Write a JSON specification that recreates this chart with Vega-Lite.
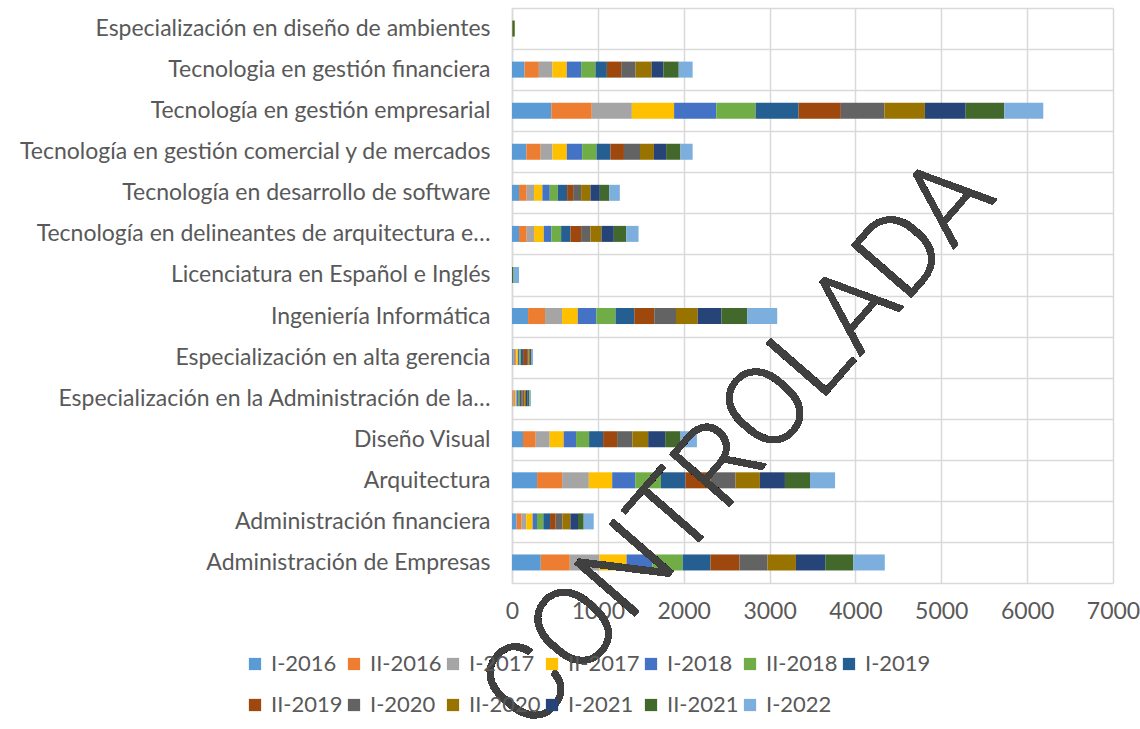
{
  "$schema": "https://vega.github.io/schema/vega-lite/v6.json",
  "width": 601,
  "height": 575,
  "autosize": {"type": "none"},
  "padding": {"left": 512, "top": 8, "right": 27, "bottom": 146},
  "background": "white",
  "config": {"view": {"stroke": null}, "font": "Lato"},
  "datasets": {
    "d": [
      {"c": "Especialización en diseño de ambientes", "s": "I-2016", "v": 0},
      {"c": "Especialización en diseño de ambientes", "s": "II-2016", "v": 0},
      {"c": "Especialización en diseño de ambientes", "s": "I-2017", "v": 0},
      {"c": "Especialización en diseño de ambientes", "s": "II-2017", "v": 0},
      {"c": "Especialización en diseño de ambientes", "s": "I-2018", "v": 0},
      {"c": "Especialización en diseño de ambientes", "s": "II-2018", "v": 0},
      {"c": "Especialización en diseño de ambientes", "s": "I-2019", "v": 0},
      {"c": "Especialización en diseño de ambientes", "s": "II-2019", "v": 0},
      {"c": "Especialización en diseño de ambientes", "s": "I-2020", "v": 0},
      {"c": "Especialización en diseño de ambientes", "s": "II-2020", "v": 6},
      {"c": "Especialización en diseño de ambientes", "s": "I-2021", "v": 0},
      {"c": "Especialización en diseño de ambientes", "s": "II-2021", "v": 26},
      {"c": "Especialización en diseño de ambientes", "s": "I-2022", "v": 0},

      {"c": "Tecnologia en gestión financiera", "s": "I-2016", "v": 146},
      {"c": "Tecnologia en gestión financiera", "s": "II-2016", "v": 167},
      {"c": "Tecnologia en gestión financiera", "s": "I-2017", "v": 158},
      {"c": "Tecnologia en gestión financiera", "s": "II-2017", "v": 167},
      {"c": "Tecnologia en gestión financiera", "s": "I-2018", "v": 167},
      {"c": "Tecnologia en gestión financiera", "s": "II-2018", "v": 167},
      {"c": "Tecnologia en gestión financiera", "s": "I-2019", "v": 133},
      {"c": "Tecnologia en gestión financiera", "s": "II-2019", "v": 167},
      {"c": "Tecnologia en gestión financiera", "s": "I-2020", "v": 167},
      {"c": "Tecnologia en gestión financiera", "s": "II-2020", "v": 187},
      {"c": "Tecnologia en gestión financiera", "s": "I-2021", "v": 137},
      {"c": "Tecnologia en gestión financiera", "s": "II-2021", "v": 179},
      {"c": "Tecnologia en gestión financiera", "s": "I-2022", "v": 162},

      {"c": "Tecnología en gestión empresarial", "s": "I-2016", "v": 458},
      {"c": "Tecnología en gestión empresarial", "s": "II-2016", "v": 471},
      {"c": "Tecnología en gestión empresarial", "s": "I-2017", "v": 467},
      {"c": "Tecnología en gestión empresarial", "s": "II-2017", "v": 492},
      {"c": "Tecnología en gestión empresarial", "s": "I-2018", "v": 492},
      {"c": "Tecnología en gestión empresarial", "s": "II-2018", "v": 458},
      {"c": "Tecnología en gestión empresarial", "s": "I-2019", "v": 500},
      {"c": "Tecnología en gestión empresarial", "s": "II-2019", "v": 492},
      {"c": "Tecnología en gestión empresarial", "s": "I-2020", "v": 508},
      {"c": "Tecnología en gestión empresarial", "s": "II-2020", "v": 471},
      {"c": "Tecnología en gestión empresarial", "s": "I-2021", "v": 475},
      {"c": "Tecnología en gestión empresarial", "s": "II-2021", "v": 450},
      {"c": "Tecnología en gestión empresarial", "s": "I-2022", "v": 454},

      {"c": "Tecnología en gestión comercial y de mercados", "s": "I-2016", "v": 167},
      {"c": "Tecnología en gestión comercial y de mercados", "s": "II-2016", "v": 167},
      {"c": "Tecnología en gestión comercial y de mercados", "s": "I-2017", "v": 137},
      {"c": "Tecnología en gestión comercial y de mercados", "s": "II-2017", "v": 167},
      {"c": "Tecnología en gestión comercial y de mercados", "s": "I-2018", "v": 179},
      {"c": "Tecnología en gestión comercial y de mercados", "s": "II-2018", "v": 167},
      {"c": "Tecnología en gestión comercial y de mercados", "s": "I-2019", "v": 162},
      {"c": "Tecnología en gestión comercial y de mercados", "s": "II-2019", "v": 158},
      {"c": "Tecnología en gestión comercial y de mercados", "s": "I-2020", "v": 187},
      {"c": "Tecnología en gestión comercial y de mercados", "s": "II-2020", "v": 162},
      {"c": "Tecnología en gestión comercial y de mercados", "s": "I-2021", "v": 142},
      {"c": "Tecnología en gestión comercial y de mercados", "s": "II-2021", "v": 167},
      {"c": "Tecnología en gestión comercial y de mercados", "s": "I-2022", "v": 142},

      {"c": "Tecnología en desarrollo de software", "s": "I-2016", "v": 82},
      {"c": "Tecnología en desarrollo de software", "s": "II-2016", "v": 89},
      {"c": "Tecnología en desarrollo de software", "s": "I-2017", "v": 86},
      {"c": "Tecnología en desarrollo de software", "s": "II-2017", "v": 97},
      {"c": "Tecnología en desarrollo de software", "s": "I-2018", "v": 86},
      {"c": "Tecnología en desarrollo de software", "s": "II-2018", "v": 93},
      {"c": "Tecnología en desarrollo de software", "s": "I-2019", "v": 109},
      {"c": "Tecnología en desarrollo de software", "s": "II-2019", "v": 70},
      {"c": "Tecnología en desarrollo de software", "s": "I-2020", "v": 93},
      {"c": "Tecnología en desarrollo de software", "s": "II-2020", "v": 109},
      {"c": "Tecnología en desarrollo de software", "s": "I-2021", "v": 109},
      {"c": "Tecnología en desarrollo de software", "s": "II-2021", "v": 109},
      {"c": "Tecnología en desarrollo de software", "s": "I-2022", "v": 124},

      {"c": "Tecnología en delineantes de arquitectura e…", "s": "I-2016", "v": 82},
      {"c": "Tecnología en delineantes de arquitectura e…", "s": "II-2016", "v": 89},
      {"c": "Tecnología en delineantes de arquitectura e…", "s": "I-2017", "v": 86},
      {"c": "Tecnología en delineantes de arquitectura e…", "s": "II-2017", "v": 113},
      {"c": "Tecnología en delineantes de arquitectura e…", "s": "I-2018", "v": 89},
      {"c": "Tecnología en delineantes de arquitectura e…", "s": "II-2018", "v": 113},
      {"c": "Tecnología en delineantes de arquitectura e…", "s": "I-2019", "v": 109},
      {"c": "Tecnología en delineantes de arquitectura e…", "s": "II-2019", "v": 124},
      {"c": "Tecnología en delineantes de arquitectura e…", "s": "I-2020", "v": 109},
      {"c": "Tecnología en delineantes de arquitectura e…", "s": "II-2020", "v": 128},
      {"c": "Tecnología en delineantes de arquitectura e…", "s": "I-2021", "v": 144},
      {"c": "Tecnología en delineantes de arquitectura e…", "s": "II-2021", "v": 144},
      {"c": "Tecnología en delineantes de arquitectura e…", "s": "I-2022", "v": 144},

      {"c": "Licenciatura en Español e Inglés", "s": "I-2016", "v": 0},
      {"c": "Licenciatura en Español e Inglés", "s": "II-2016", "v": 0},
      {"c": "Licenciatura en Español e Inglés", "s": "I-2017", "v": 0},
      {"c": "Licenciatura en Español e Inglés", "s": "II-2017", "v": 0},
      {"c": "Licenciatura en Español e Inglés", "s": "I-2018", "v": 0},
      {"c": "Licenciatura en Español e Inglés", "s": "II-2018", "v": 0},
      {"c": "Licenciatura en Español e Inglés", "s": "I-2019", "v": 0},
      {"c": "Licenciatura en Español e Inglés", "s": "II-2019", "v": 0},
      {"c": "Licenciatura en Español e Inglés", "s": "I-2020", "v": 0},
      {"c": "Licenciatura en Español e Inglés", "s": "II-2020", "v": 0},
      {"c": "Licenciatura en Español e Inglés", "s": "I-2021", "v": 0},
      {"c": "Licenciatura en Español e Inglés", "s": "II-2021", "v": 18},
      {"c": "Licenciatura en Español e Inglés", "s": "I-2022", "v": 64},

      {"c": "Ingeniería Informática", "s": "I-2016", "v": 187},
      {"c": "Ingeniería Informática", "s": "II-2016", "v": 198},
      {"c": "Ingeniería Informática", "s": "I-2017", "v": 198},
      {"c": "Ingeniería Informática", "s": "II-2017", "v": 183},
      {"c": "Ingeniería Informática", "s": "I-2018", "v": 218},
      {"c": "Ingeniería Informática", "s": "II-2018", "v": 222},
      {"c": "Ingeniería Informática", "s": "I-2019", "v": 218},
      {"c": "Ingeniería Informática", "s": "II-2019", "v": 233},
      {"c": "Ingeniería Informática", "s": "I-2020", "v": 253},
      {"c": "Ingeniería Informática", "s": "II-2020", "v": 253},
      {"c": "Ingeniería Informática", "s": "I-2021", "v": 276},
      {"c": "Ingeniería Informática", "s": "II-2021", "v": 300},
      {"c": "Ingeniería Informática", "s": "I-2022", "v": 350},

      {"c": "Especialización en alta gerencia", "s": "I-2016", "v": 19},
      {"c": "Especialización en alta gerencia", "s": "II-2016", "v": 16},
      {"c": "Especialización en alta gerencia", "s": "I-2017", "v": 16},
      {"c": "Especialización en alta gerencia", "s": "II-2017", "v": 19},
      {"c": "Especialización en alta gerencia", "s": "I-2018", "v": 16},
      {"c": "Especialización en alta gerencia", "s": "II-2018", "v": 16},
      {"c": "Especialización en alta gerencia", "s": "I-2019", "v": 27},
      {"c": "Especialización en alta gerencia", "s": "II-2019", "v": 47},
      {"c": "Especialización en alta gerencia", "s": "I-2020", "v": 16},
      {"c": "Especialización en alta gerencia", "s": "II-2020", "v": 16},
      {"c": "Especialización en alta gerencia", "s": "I-2021", "v": 12},
      {"c": "Especialización en alta gerencia", "s": "II-2021", "v": 8},
      {"c": "Especialización en alta gerencia", "s": "I-2022", "v": 16},

      {"c": "Especialización en la Administración de la…", "s": "I-2016", "v": 5},
      {"c": "Especialización en la Administración de la…", "s": "II-2016", "v": 15},
      {"c": "Especialización en la Administración de la…", "s": "I-2017", "v": 16},
      {"c": "Especialización en la Administración de la…", "s": "II-2017", "v": 16},
      {"c": "Especialización en la Administración de la…", "s": "I-2018", "v": 18},
      {"c": "Especialización en la Administración de la…", "s": "II-2018", "v": 17},
      {"c": "Especialización en la Administración de la…", "s": "I-2019", "v": 20},
      {"c": "Especialización en la Administración de la…", "s": "II-2019", "v": 18},
      {"c": "Especialización en la Administración de la…", "s": "I-2020", "v": 18},
      {"c": "Especialización en la Administración de la…", "s": "II-2020", "v": 20},
      {"c": "Especialización en la Administración de la…", "s": "I-2021", "v": 20},
      {"c": "Especialización en la Administración de la…", "s": "II-2021", "v": 20},
      {"c": "Especialización en la Administración de la…", "s": "I-2022", "v": 17},

      {"c": "Diseño Visual", "s": "I-2016", "v": 128},
      {"c": "Diseño Visual", "s": "II-2016", "v": 148},
      {"c": "Diseño Visual", "s": "I-2017", "v": 163},
      {"c": "Diseño Visual", "s": "II-2017", "v": 163},
      {"c": "Diseño Visual", "s": "I-2018", "v": 144},
      {"c": "Diseño Visual", "s": "II-2018", "v": 152},
      {"c": "Diseño Visual", "s": "I-2019", "v": 163},
      {"c": "Diseño Visual", "s": "II-2019", "v": 163},
      {"c": "Diseño Visual", "s": "I-2020", "v": 179},
      {"c": "Diseño Visual", "s": "II-2020", "v": 183},
      {"c": "Diseño Visual", "s": "I-2021", "v": 198},
      {"c": "Diseño Visual", "s": "II-2021", "v": 179},
      {"c": "Diseño Visual", "s": "I-2022", "v": 191},

      {"c": "Arquitectura", "s": "I-2016", "v": 292},
      {"c": "Arquitectura", "s": "II-2016", "v": 292},
      {"c": "Arquitectura", "s": "I-2017", "v": 311},
      {"c": "Arquitectura", "s": "II-2017", "v": 272},
      {"c": "Arquitectura", "s": "I-2018", "v": 268},
      {"c": "Arquitectura", "s": "II-2018", "v": 300},
      {"c": "Arquitectura", "s": "I-2019", "v": 284},
      {"c": "Arquitectura", "s": "II-2019", "v": 292},
      {"c": "Arquitectura", "s": "I-2020", "v": 292},
      {"c": "Arquitectura", "s": "II-2020", "v": 284},
      {"c": "Arquitectura", "s": "I-2021", "v": 292},
      {"c": "Arquitectura", "s": "II-2021", "v": 292},
      {"c": "Arquitectura", "s": "I-2022", "v": 292},

      {"c": "Administración financiera", "s": "I-2016", "v": 54},
      {"c": "Administración financiera", "s": "II-2016", "v": 58},
      {"c": "Administración financiera", "s": "I-2017", "v": 54},
      {"c": "Administración financiera", "s": "II-2017", "v": 74},
      {"c": "Administración financiera", "s": "I-2018", "v": 51},
      {"c": "Administración financiera", "s": "II-2018", "v": 74},
      {"c": "Administración financiera", "s": "I-2019", "v": 78},
      {"c": "Administración financiera", "s": "II-2019", "v": 66},
      {"c": "Administración financiera", "s": "I-2020", "v": 78},
      {"c": "Administración financiera", "s": "II-2020", "v": 93},
      {"c": "Administración financiera", "s": "I-2021", "v": 89},
      {"c": "Administración financiera", "s": "II-2021", "v": 66},
      {"c": "Administración financiera", "s": "I-2022", "v": 117},

      {"c": "Administración de Empresas", "s": "I-2016", "v": 335},
      {"c": "Administración de Empresas", "s": "II-2016", "v": 338},
      {"c": "Administración de Empresas", "s": "I-2017", "v": 346},
      {"c": "Administración de Empresas", "s": "II-2017", "v": 315},
      {"c": "Administración de Empresas", "s": "I-2018", "v": 300},
      {"c": "Administración de Empresas", "s": "II-2018", "v": 354},
      {"c": "Administración de Empresas", "s": "I-2019", "v": 323},
      {"c": "Administración de Empresas", "s": "II-2019", "v": 338},
      {"c": "Administración de Empresas", "s": "I-2020", "v": 327},
      {"c": "Administración de Empresas", "s": "II-2020", "v": 331},
      {"c": "Administración de Empresas", "s": "I-2021", "v": 342},
      {"c": "Administración de Empresas", "s": "II-2021", "v": 327},
      {"c": "Administración de Empresas", "s": "I-2022", "v": 366}
    ]
  },
  "data": {"name": "d"},
  "layer": [
    {
      "transform": [{"window": [{"op": "row_number", "as": "n"}], "groupby": ["c"]}],
      "mark": {"type": "bar", "height": {"band": 0.39}},
      "encoding": {
        "y": {
          "field": "c", "type": "nominal",
          "sort": ["Especialización en diseño de ambientes", "Tecnologia en gestión financiera", "Tecnología en gestión empresarial", "Tecnología en gestión comercial y de mercados", "Tecnología en desarrollo de software", "Tecnología en delineantes de arquitectura e…", "Licenciatura en Español e Inglés", "Ingeniería Informática", "Especialización en alta gerencia", "Especialización en la Administración de la…", "Diseño Visual", "Arquitectura", "Administración financiera", "Administración de Empresas"],
          "scale": {"paddingInner": 0, "paddingOuter": 0},
          "axis": {
            "title": null, "ticks": false, "domain": true, "domainColor": "#D9D9D9", "domainWidth": 1.5,
            "grid": true, "gridColor": "#D9D9D9", "gridWidth": 1.5, "tickBand": "extent",
            "labelFont": "Lato", "labelFontSize": 23, "labelColor": "#595959", "labelPadding": 22, "labelLimit": 0
          }
        },
        "x": {
          "field": "v", "type": "quantitative", "stack": "zero",
          "scale": {"domain": [0, 7000], "nice": false},
          "axis": {
            "title": null, "values": [0, 1000, 2000, 3000, 4000, 5000, 6000, 7000], "format": "d",
            "ticks": false, "domain": false, "grid": true, "gridColor": "#D9D9D9", "gridWidth": 1.5,
            "labelFont": "Lato", "labelFontSize": 23, "labelColor": "#595959", "labelPadding": 17, "labelFlush": false
          }
        },
        "color": {
          "field": "s", "type": "nominal",
          "scale": {
            "domain": ["I-2016", "II-2016", "I-2017", "II-2017", "I-2018", "II-2018", "I-2019", "II-2019", "I-2020", "II-2020", "I-2021", "II-2021", "I-2022"],
            "range": ["#5B9BD5", "#ED7D31", "#A5A5A5", "#FFC000", "#4472C4", "#70AD47", "#255E91", "#9E480E", "#636363", "#997300", "#264478", "#43682B", "#7CAFDD"]
          },
          "legend": {
            "title": null, "orient": "none", "legendX": -268, "legendY": 645,
            "direction": "horizontal", "columns": 7, "symbolType": "square", "symbolSize": 150,
            "symbolStrokeWidth": 0, "labelFont": "Lato", "labelFontSize": 22, "labelColor": "#595959",
            "labelOffset": 5, "columnPadding": -2, "rowPadding": 19, "labelLimit": 0
          }
        },
        "order": {"field": "n", "type": "quantitative"}
      }
    },
    {
      "mark": {
        "type": "text", "text": "CONTROLADA", "angle": -49, "align": "center", "baseline": "middle", "dy": 8,
        "font": "Roboto", "fontWeight": 300, "fontSize": 112, "fill": "#404040", "opacity": 0.75
      },
      "encoding": {
        "x": {"datum": 2570},
        "y": {"datum": "Diseño Visual"}
      }
    }
  ]
}
